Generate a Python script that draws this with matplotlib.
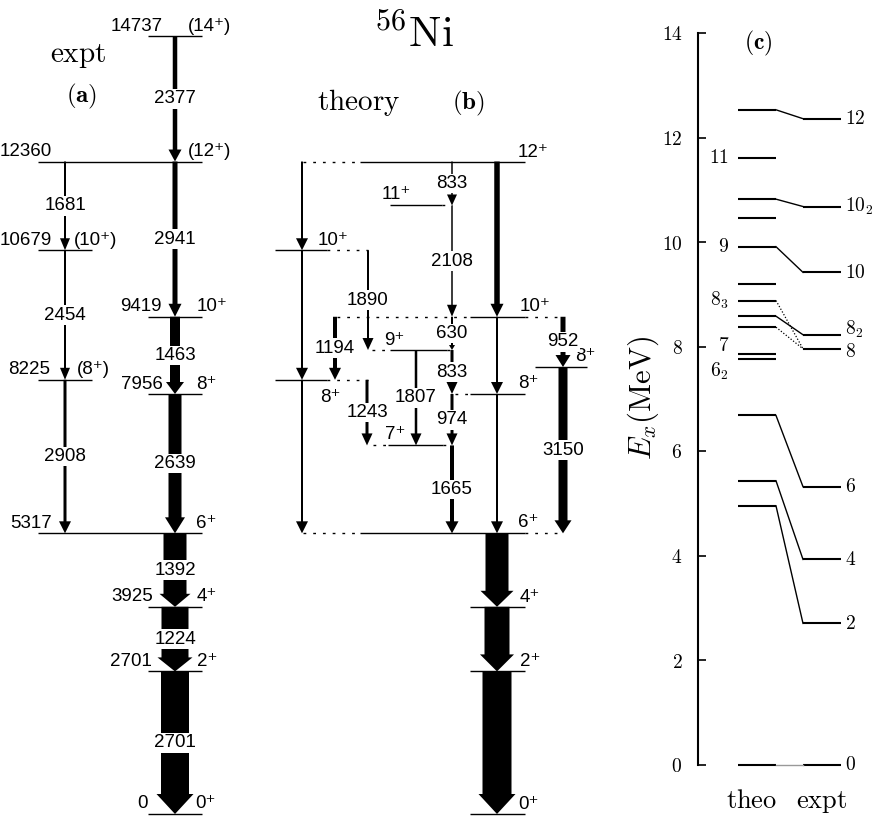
import matplotlib
matplotlib.use("Agg")
import matplotlib.pyplot as plt
from matplotlib import font_manager
from matplotlib.patches import FancyArrow
from matplotlib.ticker import FuncFormatter

plt.rcParams['mathtext.fontset'] = 'cm'

# narrow sans for the level scheme, if the narrow cut is installed
_names = {f.name for f in font_manager.fontManager.ttflist}
if 'Liberation Sans Narrow' in _names:
    SANS, FS = ['Liberation Sans Narrow', 'DejaVu Sans'], 15.5
else:
    SANS, FS = ['Liberation Sans', 'DejaVu Sans'], 13.5

W, H = 874, 818
Y0, KEV_PX = 814.0, 0.05279   # pixel row of E=0 and pixels per keV in panels (a), (b)

# ---------------------------
# Data
# ---------------------------
# (a) experiment: levels (keV) and spins
a_level_E = [14737, 12360, 10679, 9419, 8225, 7956, 5317, 3925, 2701, 0]
a_level_spin = ['(14⁺)', '(12⁺)', '(10⁺)', '10⁺', '(8⁺)', '8⁺', '6⁺', '4⁺', '2⁺', '0⁺']
# (a) gamma transitions
a_gamma_from = [14737, 12360, 12360, 10679, 9419, 8225, 7956, 5317, 3925, 2701]
a_gamma_to = [12360, 10679, 9419, 8225, 7956, 5317, 5317, 3925, 2701, 0]
a_gamma_label = ['2377', '1681', '2941', '2454', '1463', '2908', '2639', '1392', '1224', '2701']

# (b) theory: levels drawn at the experimental energies
b_level_E = [12360, 11527, 10679, 9419, 8789, 8467, 8225, 7956, 6982, 5317, 3925, 2701, 0]
b_level_spin = ['12⁺', '11⁺', '10⁺', '10⁺', '9⁺', '8⁺', '8⁺', '8⁺', '7⁺', '6⁺', '4⁺', '2⁺', '0⁺']
b_gamma_from = [12360, 10679, 8225, 10679, 12360, 11527, 12360, 9419, 7956, 9419, 9419,
                9419, 8467, 8789, 8789, 8225, 7956, 6982, 5317, 3925, 2701]
b_gamma_to = [10679, 8225, 5317, 8789, 11527, 9419, 9419, 7956, 5317, 8225, 8789,
              8467, 5317, 7956, 6982, 6982, 6982, 5317, 3925, 2701, 0]
b_gamma_label = [None, None, None, '1890', '833', '2108', None, None, None, '1194', '630',
                 '952', '3150', '833', '1807', '1243', '974', '1665', None, None, None]

# (c) theo vs expt (MeV)
c_theo_E = [12.53, 11.61, 10.82, 10.45, 9.91, 9.20, 8.88, 8.58, 8.37, 7.86, 7.77, 6.68, 5.43, 4.95, 0.0]
c_theo_label = ['', '11', '', '', '9', '', '8_3', '', '', '7', '6_2', '', '', '', '']
c_expt_E = [12.360, 10.679, 9.419, 8.225, 7.956, 5.317, 3.925, 2.701, 0.0]
c_expt_label = ['12', '10_2', '10', '8_2', '8', '6', '4', '2', '0']
c_link_theo = [12.53, 10.82, 9.91, 8.58, 8.88, 8.37, 6.68, 5.43, 4.95, 0.0]
c_link_expt = [12.360, 10.679, 9.419, 8.225, 7.956, 7.956, 5.317, 3.925, 2.701, 0.0]
c_link_style = ['-', '-', '-', '-', ':', ':', '-', '-', '-', 'gray']

# ---------------------------
# Layout (pixels)
# ---------------------------
a_level_x = [(148, 202), (38, 202), (38, 92), (148, 202), (38, 92),
             (148, 202), (38, 202), (148, 202), (148, 202), (148, 202)]
a_energy_x = [163, 52, 52, 162, 50, 163, 52, 153, 152, 148]
a_spin_x = [188, 188, 74, 197, 77, 196, 196, 197, 197, 195]
a_gamma_x = [175, 65, 175, 65, 175, 65, 175, 175, 175, 175]
a_gamma_w = [4.5, 2, 5, 2, 10, 3, 13, 23, 27, 28]
a_gamma_hw = [13, 10, 13, 10, 18, 12, 20, 31, 35, 37]
a_gamma_hl = [12, 12, 13, 12, 12, 12, 16, 13, 14, 20]

b_level_x = [(360, 525), (390, 442), (275, 327), (470, 525), (390, 447), (535, 587),
             (275, 327), (470, 525), (388, 443), (360, 525), (470, 525), (470, 525), (470, 525)]
b_level_dots = [[(303, 360)], [(442, 452)], [(327, 368)], [(337, 470), (525, 563)],
                [(372, 390), (447, 452)], [], [(327, 368)], [(455, 470)],
                [(373, 388), (443, 452)], [(303, 360), (525, 563)], [], [], []]
b_spin_x = [518, 382, 318, 520, 384, 575, 320, 518, 385, 518, 520, 520, 518]
b_spin_dy = [5, 6, 5, 6, 5, 6, -22, 6, 6, 6, 5, 5, 5]
b_gamma_x = [302, 302, 302, 368, 452, 452, 497, 497, 497, 335, 452,
             563, 563, 452, 416, 367, 452, 452, 497, 497, 497]
b_gamma_w = [2, 2, 2, 2, 1.5, 1.5, 5.5, 2, 2, 4, 2, 5, 9, 3, 2.5, 3, 3, 4, 23, 25, 29]
b_gamma_hw = [12, 12, 12, 11, 10, 10, 13, 12, 12, 12, 6, 15, 17, 11, 11, 11, 11, 13, 33, 34, 37]
b_gamma_hl = [12, 12, 12, 12, 11, 12, 13, 12, 12, 12, 5, 12, 13, 12, 12, 12, 12, 12, 16, 17, 20]


def fx(px):
    return px / W


def fy(py):
    return 1 - py / H


fig = plt.figure(figsize=(W / 100, H / 100), dpi=100)
ax = fig.add_axes([0, 0, 1, 1])
ax.set_xlim(0, W)
ax.set_ylim(-(H - Y0) / KEV_PX, Y0 / KEV_PX)
ax.axis('off')


def level(x0, x1, E, dotted=False):
    ls = (0, (2, 5)) if dotted else '-'
    ax.plot([x0, x1], [E, E], color='k', lw=1.0, ls=ls, solid_capstyle='butt', zorder=1)


def gamma(x, e_from, e_to, w, hw, hl, label):
    ax.add_patch(FancyArrow(x, e_from, 0, e_to - e_from, width=w, head_width=hw,
                            head_length=hl / KEV_PX, length_includes_head=True,
                            color='k', lw=0, zorder=2))
    if label:
        ax.text(x, (e_from + e_to) / 2, label, ha='center', va='center', fontsize=FS,
                family=SANS, zorder=3,
                bbox=dict(fc='white', ec='none', pad=1.0))


# ---------------------------
# Panel (a)
# ---------------------------
for i, E in enumerate(a_level_E):
    level(*a_level_x[i], E)
    ax.text(a_energy_x[i], E + 5.5 / KEV_PX, str(E), ha='right', va='baseline',
            fontsize=FS, family=SANS)
    ax.text(a_spin_x[i], E + 5.5 / KEV_PX, a_level_spin[i], ha='left', va='baseline',
            fontsize=FS, family=SANS)

for i in range(len(a_gamma_from)):
    gamma(a_gamma_x[i], a_gamma_from[i], a_gamma_to[i], a_gamma_w[i],
          a_gamma_hw[i], a_gamma_hl[i], a_gamma_label[i])

# ---------------------------
# Panel (b)
# ---------------------------
for i, E in enumerate(b_level_E):
    level(*b_level_x[i], E)
    for seg in b_level_dots[i]:
        level(*seg, E, dotted=True)
    ax.text(b_spin_x[i], E + b_spin_dy[i] / KEV_PX, b_level_spin[i], ha='left',
            va='baseline', fontsize=FS, family=SANS)

for i in range(len(b_gamma_from)):
    gamma(b_gamma_x[i], b_gamma_from[i], b_gamma_to[i], b_gamma_w[i],
          b_gamma_hw[i], b_gamma_hl[i], b_gamma_label[i])

# headings
fig.text(fx(414), fy(47), r'$^{56}\mathrm{Ni}$', ha='center', va='baseline', fontsize=31)
fig.text(fx(78), fy(62), r'$\mathrm{expt}$', ha='center', va='baseline', fontsize=21)
fig.text(fx(82), fy(96), r'$\mathbf{(a)}$', ha='center', va='center', fontsize=18)
fig.text(fx(359), fy(110), r'$\mathrm{theory}$', ha='center', va='baseline', fontsize=21)
fig.text(fx(468), fy(103), r'$\mathbf{(b)}$', ha='center', va='center', fontsize=18)

# ---------------------------
# Panel (c)
# ---------------------------
C0, C_TOP, C_BOT = 697.7, 33.0, 764.5
ax2 = fig.add_axes([fx(C0), (H - C_BOT) / H, (W - C0) / W, (C_BOT - C_TOP) / H])
ax2.set_xlim(C0, W)
ax2.set_ylim(0, 14)
ax2.patch.set_alpha(0)
for s in ['top', 'right', 'bottom']:
    ax2.spines[s].set_visible(False)
ax2.spines['left'].set_linewidth(1.5)
ax2.set_xticks([])
ax2.set_yticks(range(0, 15, 2))
ax2.tick_params(axis='y', direction='in', length=6, width=1.2, labelsize=14, pad=11)
ax2.yaxis.set_major_formatter(FuncFormatter(lambda v, p: f'${int(v)}$'))

TH = (738, 776)
EX = (803, 841)
for E in c_theo_E:
    ax2.plot(TH, [E, E], color='k', lw=1.5, solid_capstyle='butt', clip_on=False)
for E in c_expt_E:
    ax2.plot(EX, [E, E], color='k', lw=1.5, solid_capstyle='butt', clip_on=False)
for t, e, st in zip(c_link_theo, c_link_expt, c_link_style):
    if st == 'gray':
        ax2.plot([TH[1], EX[0]], [t, e], color='0.6', lw=1.0, clip_on=False)
    elif st == ':':
        ax2.plot([TH[1], EX[0]], [t, e], color='k', lw=0.9, ls=(0, (1, 1.5)), clip_on=False)
    else:
        ax2.plot([TH[1], EX[0]], [t, e], color='k', lw=1.0, clip_on=False)

# labels nudged (MeV) where lines lie close together
c_theo_dy = {'7': 0.15, '6_2': -0.24}
c_expt_dy = {'8_2': 0.1, '8': -0.06}
for E, lab in zip(c_theo_E, c_theo_label):
    if lab:
        ax2.text(729, E + c_theo_dy.get(lab, 0.0), r'$\mathbf{%s}$' % lab,
                 ha='right', va='center', fontsize=14)
for E, lab in zip(c_expt_E, c_expt_label):
    ax2.text(845, E + c_expt_dy.get(lab, 0.0), r'$\mathbf{%s}$' % lab, ha='left',
             va='center', fontsize=14, clip_on=False)

fig.text(fx(643), fy(398), r'$E_x(\mathrm{MeV})$', rotation=90, ha='center', va='center',
         fontsize=22)
fig.text(fx(758), fy(43), r'$\mathbf{(c)}$', ha='center', va='center', fontsize=17)
fig.text(fx(752), fy(808), r'$\mathrm{theo}$', ha='center', va='baseline', fontsize=19)
fig.text(fx(822), fy(808), r'$\mathrm{expt}$', ha='center', va='baseline', fontsize=19)

fig.savefig('out.png', dpi=100)
